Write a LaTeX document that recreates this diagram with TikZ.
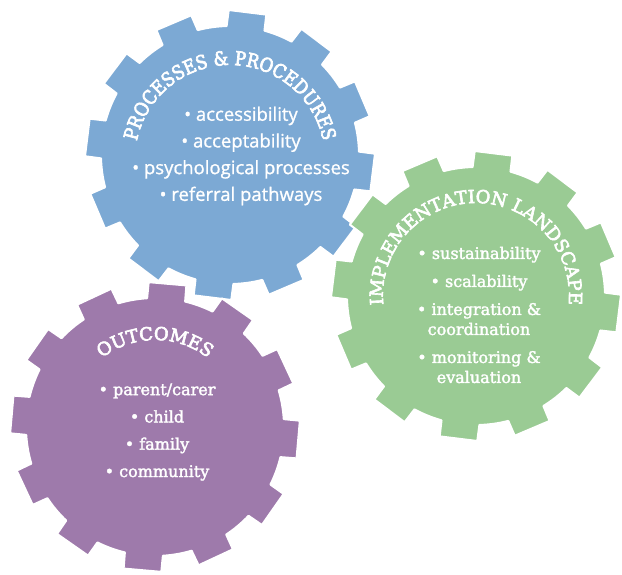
\documentclass[tikz,border=0pt]{standalone}
\usepackage{fontspec}
\newfontfamily\slabfont[FakeBold=2]{DejaVu Serif}
\newfontfamily\ttlfont[FakeBold=3.5]{DejaVu Serif}
\newfontfamily\narrowslab[FakeStretch=0.87,FakeBold=3.5]{DejaVu Serif}
\newfontfamily\sansfont[FakeBold=1]{Open Sans}
\usetikzlibrary{decorations.text}
\definecolor{cogblue}{RGB}{124,169,212}
\definecolor{coggreen}{RGB}{154,203,148}
\definecolor{cogpurple}{RGB}{158,122,171}
\newcommand{\ttl}{\ttlfont\fontsize{18}{18}\selectfont}
\newcommand{\ttlnarrow}{\narrowslab\fontsize{19.2}{19.2}\selectfont}

\begin{document}
\begin{tikzpicture}[x=1pt,y=1pt,
	cog/.style={fill=#1,draw=white,line width=2pt,line join=round},
	teeth/.style={insert path={(#1-8.5:129)\foreach\k in{0,...,11}{--({#1+30*\k-7.5}:145)--({#1+30*\k+7.5}:145)--({#1+30*\k+8.5}:129)arc[start angle={#1+30*\k+8.5},delta angle=13,radius=129]}--cycle}},
	title/.style={decorate,decoration={text along path,text align=center,text color=white,text format delimiters={|}{|},text={#1}}},
	items/.style={text=white,align=center,inner sep=0pt}]
	\useasboundingbox[fill=white](0,0)rectangle(622,-575);
	\coordinate(pp)at(230,-155);
	\coordinate(il)at(476,-296);
	\coordinate(oc)at(155,-427);
	\filldraw[cog=cogblue,shift={(pp)},teeth=83];
	\filldraw[cog=coggreen,shift={(il)},teeth=83];
	\filldraw[cog=cogpurple,shift={(oc)},teeth=85];
	\path[title={|\ttlnarrow|PROCESSES {\&} PROCEDURES}](pp)++(0,-5)++(200:95)arc[start angle=200,end angle=-20,radius=95];
	\path[title={|\ttl|IMPLEMENTATION LANDSCAPE}](il)++(200:93)arc[start angle=200,end angle=-20,radius=93];
	\path[title={|\ttl|OUTCOMES}](oc)++(160:87)arc[start angle=160,end angle=20,radius=87];
	\node[items,font={\sansfont\fontsize{18.5}{26.7}\selectfont}](pplist)at(241,-156){\textbullet\ accessibility\\\textbullet\ acceptability\\\textbullet\ psychological processes\\\textbullet\ referral pathways};
	\node[items,font={\slabfont\fontsize{16}{20}\selectfont}](illist)at(479,-315){\textbullet\ sustainability\\[8pt]\textbullet\ scalability\\[8pt]\textbullet\ integration \&\\coordination\\[8pt]\textbullet\ monitoring \&\\evaluation};
	\node[items,font={\slabfont\fontsize{16}{27.3}\selectfont}](oclist)at(157,-432){\textbullet\ parent/carer\\\textbullet\ child\\\textbullet\ family\\\textbullet\ community};
\end{tikzpicture}
\end{document}
